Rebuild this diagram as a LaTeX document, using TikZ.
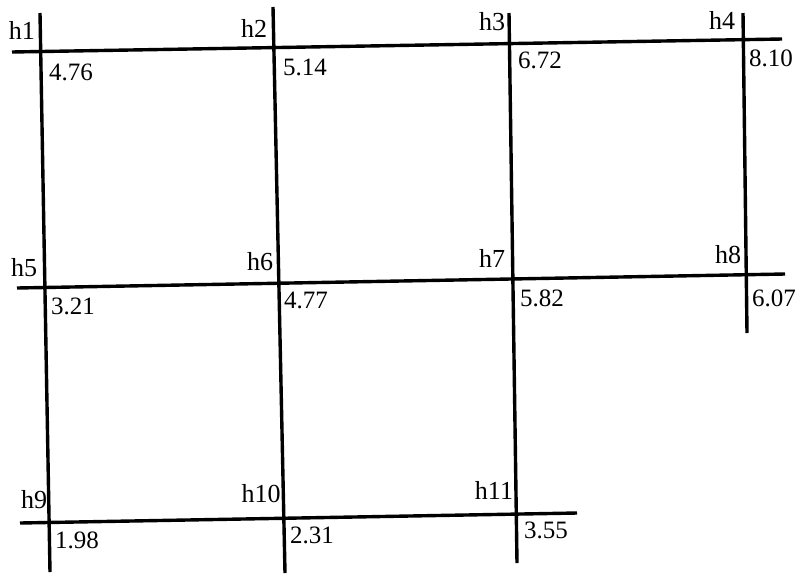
\documentclass[tikz,border=0pt]{standalone}
\usepackage{fontspec}
\setmainfont{Liberation Serif}
\begin{document}
\begin{tikzpicture}[x=1pt,y=-1pt,
  gridline/.style={line width=3.4pt,black},
  hlab/.style={font=\fontsize{26}{26}\selectfont,inner sep=0pt},
  vlab/.style={font=\fontsize{25}{25}\selectfont,inner sep=0pt}]
\useasboundingbox (0,0) rectangle (800,574);
% vertical line ends
\coordinate (t1) at (40,13);  \coordinate (b1) at (50,572);
\coordinate (t2) at (273,7);  \coordinate (b2) at (285,573);
\coordinate (t3) at (509,13); \coordinate (b3) at (517,563);
\coordinate (t4) at (743,13); \coordinate (b4) at (747,333);
% horizontal line ends
\coordinate (l1) at (12,52);  \coordinate (r1) at (782,39);
\coordinate (l2) at (17,288); \coordinate (r2) at (785,274);
\coordinate (l3) at (20,523); \coordinate (r3) at (577,513);
\draw[gridline] (t1) -- (b1);
\draw[gridline] (t2) -- (b2);
\draw[gridline] (t3) -- (b3);
\draw[gridline] (t4) -- (b4);
\draw[gridline] (l1) -- (r1);
\draw[gridline] (l2) -- (r2);
\draw[gridline] (l3) -- (r3);
% labels
\node[hlab] (h1) at (22,30) {h1};
\node[vlab] (v1) at (71,72) {4.76};
\node[hlab] (h2) at (254,28) {h2};
\node[vlab] (v2) at (305,67) {5.14};
\node[hlab] (h3) at (492,22) {h3};
\node[vlab] (v3) at (540,60) {6.72};
\node[hlab] (h4) at (722,20) {h4};
\node[vlab] (v4) at (771,58) {8.10};
\node[hlab] (h5) at (24,268) {h5};
\node[vlab] (v5) at (73,306) {3.21};
\node[hlab] (h6) at (260,262) {h6};
\node[vlab] (v6) at (306,300) {4.77};
\node[hlab] (h7) at (492,258) {h7};
\node[vlab] (v7) at (542,298) {5.82};
\node[hlab] (h8) at (728,255) {h8};
\node[vlab] (v8) at (774,298) {6.07};
\node[hlab] (h9) at (34,500) {h9};
\node[vlab] (v9) at (77,540) {1.98};
\node[hlab] (h10) at (261,494) {h10};
\node[vlab] (v10) at (312,535) {2.31};
\node[hlab] (h11) at (494,490) {h11};
\node[vlab] (v11) at (546,530) {3.55};
\end{tikzpicture}
\end{document}
